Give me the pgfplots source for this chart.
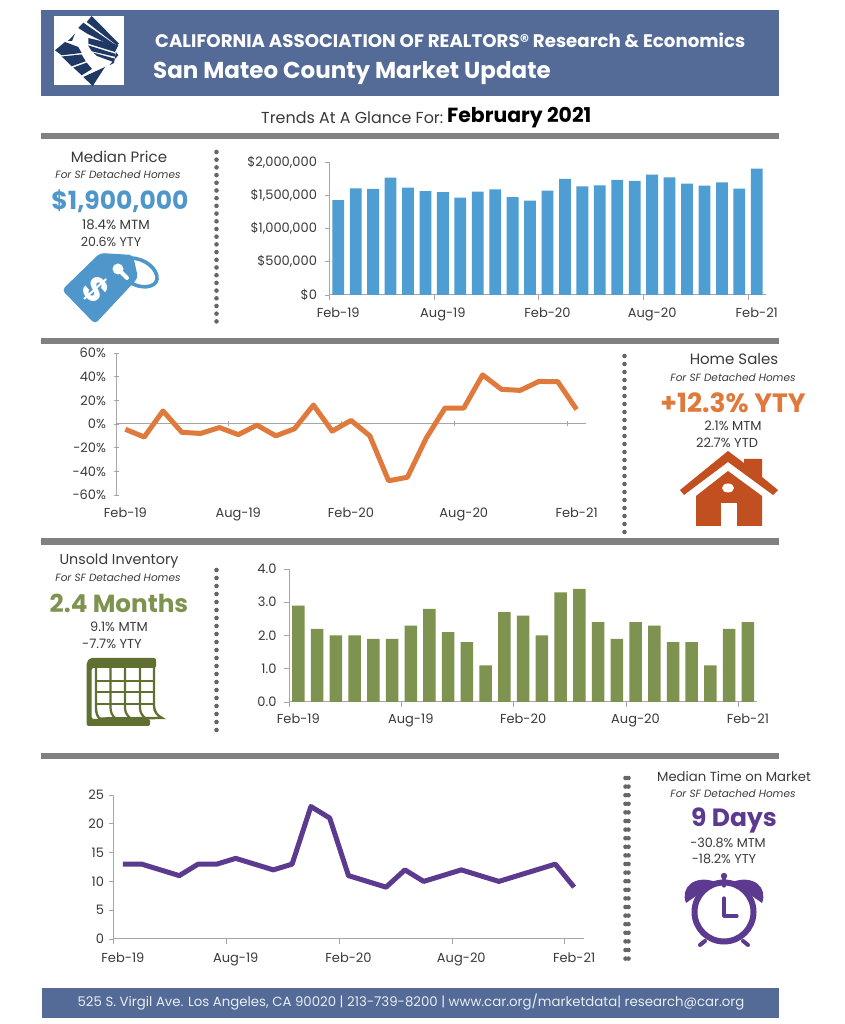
\documentclass[border=0pt]{standalone}
\usepackage{fontspec}
\setmainfont{Poppins}
\usepackage{pgfplots}
\pgfplotsset{compat=1.18}
\definecolor{hdr}{HTML}{536B96}
\definecolor{rule}{HTML}{808080}
\definecolor{ink}{HTML}{3A3A3A}
\definecolor{spine}{HTML}{A6A6A6}
\definecolor{cblue}{HTML}{4E9DD3}
\definecolor{cblued}{HTML}{4F97CB}
\definecolor{corange}{HTML}{DF7A3C}
\definecolor{chouse}{HTML}{C24F1F}
\definecolor{cgreen}{HTML}{7F9350}
\definecolor{cgreend}{HTML}{5F7030}
\definecolor{cpurple}{HTML}{5B3A8F}
\definecolor{navy}{HTML}{1F3864}
\newcommand{\fs}[1]{\fontsize{#1}{#1}\selectfont}
\pgfplotsset{
  panel/.style={
    scale only axis, clip=false,
    axis lines=left,
    axis line style={draw=spine,line width=1pt,-},
    tick style={draw=spine,line width=0.8pt},
    major tick length=5pt, minor tick length=5pt,
    tick align=outside,
    xmin=-0.5, xmax=24.5,
    xtick={0,6,12,18,24},
    xticklabels={Feb-19,Aug-19,Feb-20,Aug-20,Feb-21},
    minor xtick={-0.5,5.5,11.5,17.5,23.5},
    x tick style={draw=none},
    minor x tick style={draw=spine,line width=0.8pt},
    ticklabel style={font=\fs{13},text=ink},
    scaled y ticks=false,
    /pgf/number format/assume math mode=true,
    y tick label style={xshift=-1pt},
    x tick label style={yshift=-3pt},
  }
}
\begin{document}
\begin{tikzpicture}
\useasboundingbox (0,0) rectangle (844pt,1024pt);
\fill[white] (0,0) rectangle (844pt,1024pt);

% median price
\begin{axis}[panel, at={(329.5pt,729pt)}, anchor=south west, width=436pt, height=133pt,
  ymin=0, ymax=2000000, ytick={0,500000,1000000,1500000,2000000},
  yticklabels={\$0,{\$500,000},{\$1,000,000},{\$1,500,000},{\$2,000,000}},
  y tick label style={xshift=-3pt}, x tick label style={yshift=-1pt},
  ybar, bar width=11.8pt]
\addplot[fill=cblue,draw=none] coordinates {
(0,1425000) (1,1605000) (2,1595000) (3,1765000) (4,1615000) (5,1560000) (6,1545000)
(7,1465000) (8,1555000) (9,1590000) (10,1470000) (11,1420000) (12,1570000) (13,1745000)
(14,1635000) (15,1650000) (16,1730000) (17,1715000) (18,1810000) (19,1770000)
(20,1675000) (21,1645000) (22,1695000) (23,1600000) (24,1900000)};
\end{axis}

% home sales yty
\begin{axis}[panel, at={(116pt,529pt)}, anchor=south west, width=470pt, height=142pt,
  axis x line=middle, axis y line=left, axis line style={-},
  ymin=-60, ymax=60, ytick={-60,-40,-20,0,20,40,60},
  yticklabels={-60\%,-40\%,-20\%,0\%,20\%,40\%,60\%},
  y tick label style={xshift=-3pt},
  x tick label style={yshift=-75pt}]
\addplot[corange,line width=5pt,line join=round] coordinates {
(0,-4.5) (1,-11) (2,11) (3,-7) (4,-8) (5,-3) (6,-9) (7,-1) (8,-10) (9,-4) (10,16) (11,-6)
(12,3) (13,-10) (14,-48) (15,-45) (16,-12) (17,13.5) (18,13.5) (19,41.5) (20,29.3)
(21,28.4) (22,36) (23,35.7) (24,12.3)};
\end{axis}

% unsold inventory
\begin{axis}[panel, at={(289pt,322pt)}, anchor=south west, width=468.3pt, height=133pt,
  ymin=0, ymax=4, ytick={0,1,2,3,4}, yticklabels={0.0,1.0,2.0,3.0,4.0},
  y tick label style={xshift=-3pt},
  ybar, bar width=12.5pt]
\addplot[fill=cgreen,draw=none] coordinates {
(0,2.9) (1,2.2) (2,2.0) (3,2.0) (4,1.9) (5,1.9) (6,2.3) (7,2.8) (8,2.1) (9,1.8) (10,1.1)
(11,2.7) (12,2.6) (13,2.0) (14,3.3) (15,3.4) (16,2.4) (17,1.9) (18,2.4) (19,2.3) (20,1.8)
(21,1.8) (22,1.1) (23,2.2) (24,2.4)};
\end{axis}

% median time on market
\begin{axis}[panel, at={(113.5pt,85pt)}, anchor=south west, width=470pt, height=144pt,
  ymin=0, ymax=25, ytick={0,5,10,15,20,25}, x tick label style={yshift=-2pt}]
\addplot[cpurple,line width=5pt,line join=round] coordinates {
(0,13) (1,13) (2,12) (3,11) (4,13) (5,13) (6,14) (7,13) (8,12) (9,13) (10,23) (11,21)
(12,11) (13,10) (14,9) (15,12) (16,10) (17,11) (18,12) (19,11) (20,10) (21,11) (22,12)
(23,13) (24,9)};
\end{axis}

% layout, in reference pixels from the top
\begin{scope}[x=1pt,y=-1pt,yshift=1024pt]
\fill[hdr] (41,10) rectangle (779,96);
\fill[white] (54,16) rectangle (124,85);
\fill[navy] (91.7,16)--(119,43.7)--(116.7,45.3)--(86.7,22)--cycle;
\fill[navy] (83.3,22.7)--(116,45.3)--(114,47)--(87.3,33.7)--(78.3,28)--cycle;
\fill[navy] (88.3,38)--(118.3,45.3)--(115,52)--(88.3,43.7)--cycle;
\fill[navy] (88,45.3)--(115,53.7)--(116,57)--(91.7,51.3)--cycle;
\fill[navy] (93.3,52.7)--(115,58.7)--(113.3,62)--(97,56)--cycle;
\fill[navy] (109.3,65.3)--(118.3,55.3)--(116,52)--(114,63)--cycle;
\fill[navy] (55,50.3)--(65,42)--(78.3,47)--(81.7,53)--(61.7,55.3)--cycle;
\fill[navy] (68,41)--(75,33.7)--(72,41)--cycle;
\fill[navy] (61.7,56.5)--(81.7,54.5)--(85.7,61.3)--(71.7,66.3)--cycle;
\fill[navy] (73.3,67.5)--(86.7,62.7)--(92,69)--(81.7,75.3)--cycle;
\fill[navy] (83.3,77)--(100,69.3)--(105,67)--(92.7,86)--cycle;
\node[anchor=west,inner sep=0pt,white,font=\bfseries\fs{18.2}] at (155,40) {CALIFORNIA ASSOCIATION OF REALTORS® Research \& Economics};
\node[anchor=west,inner sep=0pt,white,font=\bfseries\fs{23}] at (153,73) {San Mateo County Market Update};
\node[anchor=west,inner sep=0pt,ink,font=\fs{15.9}] at (261,118) {Trends At A Glance For:};
\node[anchor=west,inner sep=0pt,black,font=\bfseries\fs{20.4}] at (447,118) {February 2021};

\fill[rule] (41,133) rectangle (779,139);
\fill[rule] (41,338) rectangle (779,344);
\fill[rule] (41,538) rectangle (779,545);
\fill[rule] (41,753) rectangle (779,759);

\fill[hdr] (42,988) rectangle (779,1018);
\node[text=white!88!hdr,font=\fs{13.3}] at (411,1002) {525 S. Virgil Ave. Los Angeles, CA 90020 | 213-739-8200 | www.car.org/marketdata| research@car.org};

\tikzset{dots/.style={line width=4.6pt,line cap=round,draw=black!60}}
\draw[dots,dash pattern=on 0pt off 7.7pt] (216.5,152)--(216.5,325);
\draw[dots,dash pattern=on 0pt off 8pt] (624.5,356)--(624.5,532);
\draw[dots,dash pattern=on 0pt off 8pt] (216.5,570)--(216.5,737);
\draw[dots,dash pattern=on 0pt off 8.6pt] (625.5,778)--(625.5,960);
\draw[dots,dash pattern=on 0pt off 8.6pt] (628.5,778)--(628.5,960);

% median price text
\node[ink,font=\fs{15}] at (119,157) {Median Price};
\node[ink,font=\itshape\fs{10.5}] at (118,175) {For SF Detached Homes};
\node[cblued,font=\bfseries\fs{25}] at (120,201) {\$1,900,000};
\node[ink,font=\fs{13.3}] at (116,225) {18.4\% MTM};
\node[ink,font=\fs{12.6}] at (111,242) {20.6\% YTY};
\fill[cblued,rounded corners=4pt] (62,290)--(100,253)--(133,255)--(138,278)--(95,324)--cycle;
\fill[white] (118,269) circle (5.5);
\draw[white,line width=4pt,line cap=round] (118,269)--(127,278);
\draw[cblued,line width=3.6pt] (130,258) .. controls (146,258) and (158,270) .. (157,279) .. controls (156,288) and (140,290) .. (128,281);
\node[white,rotate=-48,font=\bfseries\fs{34}] at (96,290) {\$};

% home sales text
\node[ink,font=\fs{15}] at (734,359) {Home Sales};
\node[ink,font=\itshape\fs{10.5}] at (733,378) {For SF Detached Homes};
\node[corange,font=\bfseries\fs{26.5}] at (733,403) {+12.3\% YTY};
\node[ink,font=\fs{13}] at (733,426) {2.1\% MTM};
\node[ink,font=\fs{13}] at (727,443) {22.7\% YTD};
\fill[chouse] (680,490)--(728,451)--(744,463)--(744,459)--(762,459)--(762,477)--(778,490)--(773,495)--(728,462)--(684,495)--cycle;
\fill[chouse] (728,471)--(762,496)--(762,526)--(696,526)--(696,496)--cycle;
\fill[white] (728,488) ellipse (6 and 4.5);
\fill[white] (721,503) rectangle (737,526);

% inventory text
\node[ink,font=\fs{14.3}] at (119,561) {Unsold Inventory};
\node[ink,font=\itshape\fs{10.5}] at (118,578) {For SF Detached Homes};
\node[cgreen,font=\bfseries\fs{24.7}] at (119,603) {2.4 Months};
\node[ink,font=\fs{13}] at (119,627) {9.1\% MTM};
\node[ink,font=\fs{13}] at (112,644) {-7.7\% YTY};
\fill[cgreend,rounded corners=2pt] (86.7,662)--(90,658)--(156,658)--(156,668)--(91.7,668)--(91.7,719)--(150,719)--(150,726)--(86.7,726)--cycle;
\draw[cgreend,line width=2.4pt] (96,660)--(96,708) .. controls (96,714) and (98,717) .. (100,719);
\draw[cgreend,line width=2.2pt] (110.5,668)--(110.5,708) .. controls (110.5,713) and (113,716) .. (115,718);
\draw[cgreend,line width=2.2pt] (125,668)--(125,708) .. controls (125,713) and (128,716) .. (130,718);
\draw[cgreend,line width=2.2pt] (140,668)--(140,708) .. controls (140,713) and (143,716) .. (145,718);
\draw[cgreend,line width=2.4pt] (154,660)--(154,706) .. controls (154,712) and (158,716) .. (162,718)--(100,718.5);
\draw[cgreend,line width=2.2pt] (96,681)--(154,681) (96,692)--(154,692) (96,704)--(154,704);

% time on market text
\node[ink,font=\fs{13.2}] at (734,777) {Median Time on Market};
\node[ink,font=\itshape\fs{10.5}] at (733,794) {For SF Detached Homes};
\node[cpurple,font=\bfseries\fs{25}] at (734,820) {9 Days};
\node[ink,font=\fs{12.8}] at (728,843) {-30.8\% MTM};
\node[ink,font=\fs{12.8}] at (724,859) {-18.2\% YTY};
\draw[cpurple,line width=6pt] (724,912) circle (29.5);
\draw[cpurple,line width=3.2pt,line cap=round] (724,877)--(724,886);
\fill[cpurple] (724,876) circle (3.2);
\fill[cpurple] (686,903) .. controls (680,888) and (694,874) .. (716,882) -- cycle;
\fill[cpurple] (762,903) .. controls (768,888) and (754,874) .. (732,882) -- cycle;
\draw[cpurple,line width=3.2pt,line cap=round,line join=round] (724,898)--(724,916)--(737,916);
\draw[cpurple,line width=4pt,line cap=round] (705,941)--(700,945) (743,941)--(748,945);
\end{scope}
\end{tikzpicture}
\end{document}
